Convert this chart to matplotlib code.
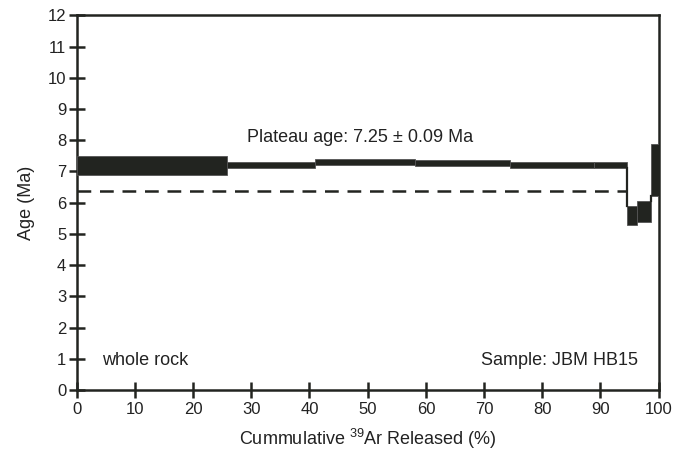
import matplotlib
matplotlib.use("Agg")
import matplotlib.pyplot as plt
from matplotlib.patches import Rectangle

plt.rcParams['font.family'] = ['Liberation Sans', 'DejaVu Sans']
plt.rcParams['mathtext.fontset'] = 'custom'
plt.rcParams['mathtext.rm'] = 'Liberation Sans'

# Step boundaries (cumulative 39Ar %) and age envelopes (Ma)
cum_start = [0.0, 25.8, 40.9, 58.1, 74.5, 88.8, 94.5, 96.3, 98.7]
cum_end   = [25.8, 40.9, 58.1, 74.5, 88.8, 94.5, 96.3, 98.7, 100.0]
age_low   = [6.89, 7.10, 7.21, 7.18, 7.10, 7.10, 5.29, 5.39, 6.21]
age_high  = [7.50, 7.31, 7.39, 7.37, 7.31, 7.31, 5.89, 6.06, 7.88]
ref_age = 6.38
ref_end = 94.5
x_ticks = [0, 10, 20, 30, 40, 50, 60, 70, 80, 90, 100]
y_ticks = list(range(0, 13))

fig = plt.figure(figsize=(6.86, 4.54), dpi=100)
ax = fig.add_axes([0.1118, 0.141, 0.8484, 0.8253])
ax.set_xlim(0, 100)
ax.set_ylim(0, 12)

col = '#222420'
for x0, x1, lo, hi in zip(cum_start, cum_end, age_low, age_high):
    ax.add_patch(Rectangle((x0, lo), x1 - x0, hi - lo, facecolor=col,
                           edgecolor='#555555', linewidth=0.6, zorder=3))

# connecting verticals between consecutive steps
for i in range(len(cum_start) - 1):
    xb = cum_end[i]
    lo1, hi1 = age_low[i], age_high[i]
    lo2, hi2 = age_low[i + 1], age_high[i + 1]
    if lo1 > hi2:
        ax.plot([xb, xb], [lo1, hi2], color=col, lw=1.6, zorder=3)
    elif lo2 > hi1:
        ax.plot([xb, xb], [hi1, lo2], color=col, lw=1.6, zorder=3)

ax.plot([0, ref_end], [ref_age, ref_age], color=col, lw=1.8,
        dashes=(5.5, 3.5), zorder=2)

for s in ax.spines.values():
    s.set_linewidth(1.8)
    s.set_color(col)

ax.set_xticks(x_ticks)
ax.set_yticks(y_ticks)
ax.tick_params(direction='inout', length=11, width=1.8, color=col,
               labelsize=12, labelcolor='#222222', pad=2)
ax.tick_params(axis='x', pad=3)

ax.set_xlabel(r'Cummulative $\mathregular{^{39}}$Ar Released (%)', fontsize=13,
              color='#222222', labelpad=7)
ax.set_ylabel('Age (Ma)', fontsize=13, color='#222222', labelpad=9)

ax.text(29.3, 8.1, 'Plateau age: 7.25 \u00b1 0.09 Ma', fontsize=13,
        color='#222222', va='center', ha='left')
ax.text(4.3, 0.96, 'whole rock', fontsize=13, color='#222222',
        va='center', ha='left')
ax.text(96.4, 0.96, 'Sample: JBM HB15', fontsize=13, color='#222222',
        va='center', ha='right')

fig.savefig('out.png', dpi=100)
